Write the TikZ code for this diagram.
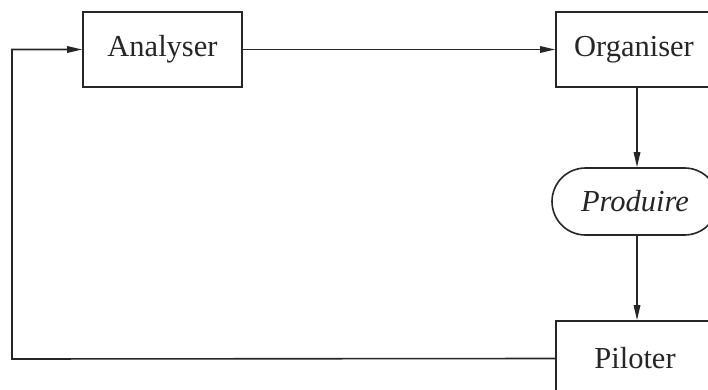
\documentclass[tikz,border=0pt]{standalone}
\usepackage{fontspec}
\setmainfont{Liberation Serif}
\usetikzlibrary{arrows.meta,shapes.misc}
\definecolor{ink}{HTML}{262626}
\tikzset{
  x=1pt, y=-1pt,
  every node/.style={font=\fontsize{30.5}{36}\selectfont, text=ink},
  stepbox/.style={draw=ink, line width=1.6pt, rectangle, inner sep=0pt},
  roundbox/.style={draw=ink, line width=1.6pt, rounded rectangle, inner sep=0pt},
  flow/.style={draw=ink, line width=1.6pt, -{Triangle[length=15pt,width=6.5pt]}},
}
\begin{document}
\begin{tikzpicture}
  \clip (0,0) rectangle (708,390);
  \fill[white] (0,0) rectangle (708,390);
  \node[stepbox, minimum width=159pt, minimum height=75pt] (an) at (162.5,49.5) {Analyser};
  \node[stepbox, minimum width=156pt, minimum height=75pt] (org) at (634,49.5) {Organiser};
  \node[roundbox, minimum width=166pt, minimum height=67pt] (prod) at (635,201.5) {\itshape Produire};
  \node[stepbox, minimum width=158pt, minimum height=75pt] (pil) at (635,358.5) {Piloter};
  \coordinate (back) at (12,359);
  \draw[flow] (an.east) -- (org.west);
  \draw[flow] (org.south -| 637,0) -- (prod.north -| 637,0);
  \draw[flow] (prod.south -| 637,0) -- (pil.north -| 637,0);
  \draw[flow] (pil.west) -- (back) |- (an.west);
\end{tikzpicture}
\end{document}
